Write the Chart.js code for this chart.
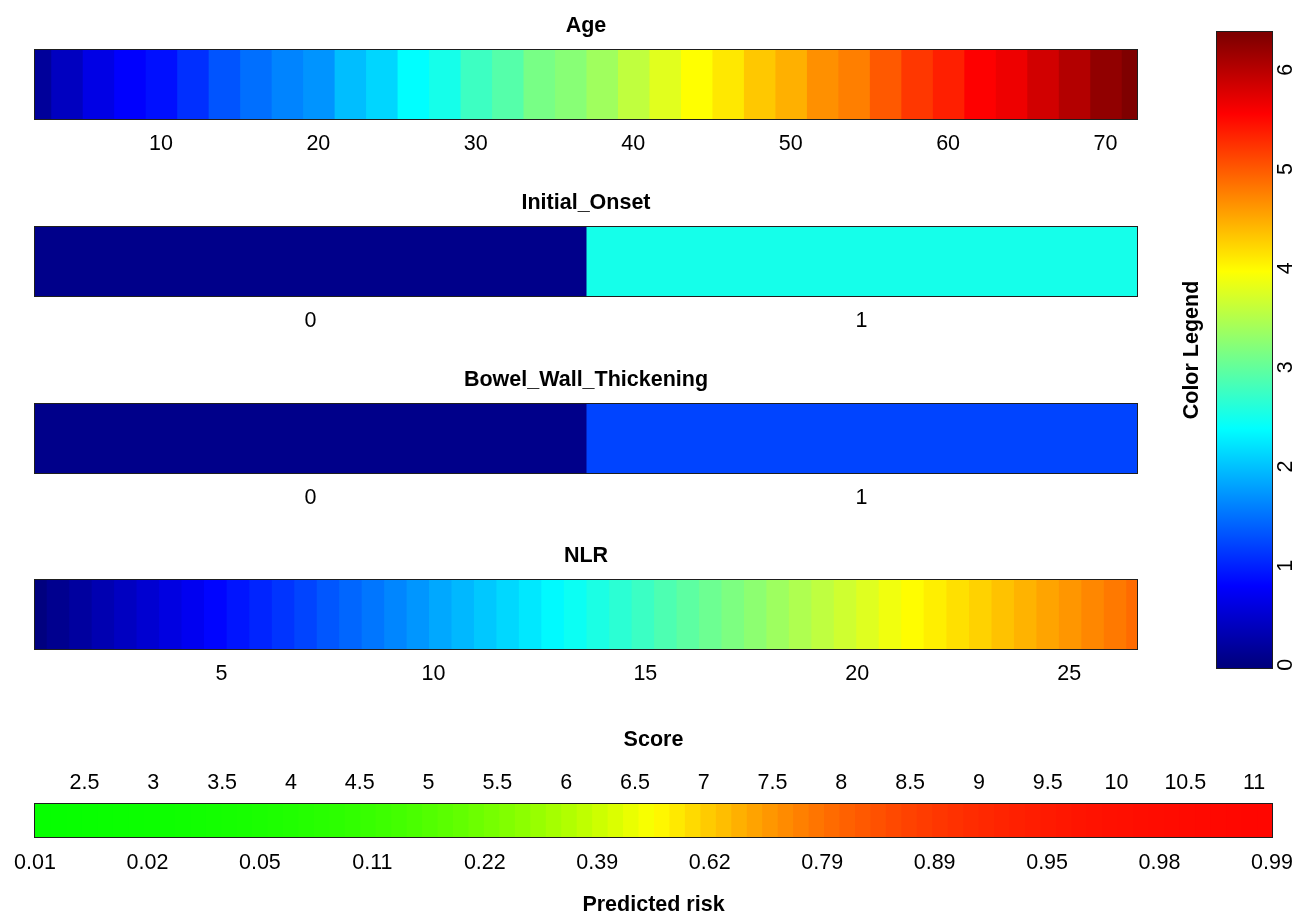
<!DOCTYPE html>
<html>
<head>
<meta charset="utf-8">
<title>Colour nomogram</title>
<script src="https://cdn.jsdelivr.net/npm/chart.js@4.4.1/dist/chart.umd.min.js"></script>
<style>
    html, body { margin: 0; padding: 0; background: #fff; overflow: hidden; }
    #page { position: relative; width: 1295px; height: 917px; overflow: hidden; }
    .panel { position: absolute; }
</style>
</head>
<body>
<div id="page"></div>
<script>
// values (colour = points on the 0..6.35 legend scale)
const ageLevels = [2, 4, 6, 8, 10, 12, 14, 16, 18, 20, 22, 24, 26, 28, 30, 32, 34, 36,
    38, 40, 42, 44, 46, 48, 50, 52, 54, 56, 58, 60, 62, 64, 66, 68, 70, 72];
const ageValues = [0.17, 0.40, 0.63, 0.79, 0.89, 1.09, 1.32, 1.49, 1.62, 1.72, 1.98, 2.13,
    2.38, 2.51, 2.76, 2.91, 3.13, 3.23, 3.38, 3.58, 3.78, 3.97, 4.11, 4.31,
    4.46, 4.66, 4.76, 5.00, 5.21, 5.36, 5.56, 5.66, 5.84, 6.03, 6.24, 6.35];
const ageTicks = [10, 20, 30, 40, 50, 60, 70];

const onsetLevels = [0, 1];
const onsetValues = [0.07, 2.51];

const bowelLevels = [0, 1];
const bowelValues = [0.07, 1.22];

const nlrLevels = [0.60, 1.13, 1.66, 2.19, 2.72, 3.25, 3.78, 4.31, 4.84, 5.38,
    5.91, 6.44, 6.97, 7.50, 8.03, 8.56, 9.09, 9.62, 10.15, 10.68,
    11.21, 11.74, 12.27, 12.80, 13.33, 13.87, 14.40, 14.93, 15.46, 15.99,
    16.52, 17.05, 17.58, 18.11, 18.64, 19.17, 19.70, 20.23, 20.76, 21.29,
    21.82, 22.36, 22.89, 23.42, 23.95, 24.48, 25.01, 25.54, 26.07, 26.60];
const nlrValues = [0.00, 0.10, 0.20, 0.31, 0.41, 0.51, 0.61, 0.71, 0.82, 0.92,
    1.02, 1.12, 1.22, 1.33, 1.43, 1.53, 1.63, 1.73, 1.84, 1.94,
    2.04, 2.14, 2.24, 2.35, 2.45, 2.55, 2.65, 2.75, 2.86, 2.96,
    3.06, 3.16, 3.26, 3.37, 3.47, 3.57, 3.67, 3.77, 3.88, 3.98,
    4.07, 4.16, 4.25, 4.35, 4.44, 4.53, 4.62, 4.71, 4.80, 4.89];
const nlrTicks = [5, 10, 15, 20, 25];

const scoreMin = 2.14;
const scoreMax = 11.13;
const scoreTicks = [2.5, 3, 3.5, 4, 4.5, 5, 5.5, 6, 6.5, 7, 7.5, 8, 8.5, 9, 9.5, 10, 10.5, 11];
// predicted risk of each score cell, left to right
const scoreRisk = [0.011, 0.012, 0.013, 0.015, 0.017, 0.019, 0.021, 0.024, 0.026, 0.029,
    0.033, 0.037, 0.041, 0.046, 0.051, 0.057, 0.063, 0.071, 0.078, 0.087,
    0.097, 0.107, 0.119, 0.131, 0.145, 0.160, 0.176, 0.193, 0.212, 0.232,
    0.253, 0.275, 0.298, 0.323, 0.348, 0.375, 0.402, 0.430, 0.459, 0.487,
    0.516, 0.544, 0.573, 0.601, 0.628, 0.654, 0.680, 0.704, 0.728, 0.750,
    0.771, 0.790, 0.809, 0.826, 0.842, 0.857, 0.870, 0.883, 0.894, 0.904,
    0.914, 0.922, 0.930, 0.937, 0.944, 0.950, 0.955, 0.960, 0.964, 0.968,
    0.971, 0.974, 0.977, 0.979, 0.981, 0.983, 0.985, 0.987, 0.988, 0.989];
const riskLabels = ['0.01', '0.02', '0.05', '0.11', '0.22', '0.39',
    '0.62', '0.79', '0.89', '0.95', '0.98', '0.99'];

const legendMax = 6.35;
const legendTicks = [0, 1, 2, 3, 4, 5, 6];

// ---- styling ----
const FONT = '"Liberation Sans", Arial, sans-serif';
const FS = 21.5;
const LH = FS * 1.2;
const boldFont = { family: FONT, size: FS, weight: 'bold' };
const tickFont = { family: FONT, size: FS };

Chart.defaults.font.family = FONT;
Chart.defaults.color = '#000';

const jetStops = ['#00007F', '#0000FF', '#007FFF', '#00FFFF', '#7FFF7F',
    '#FFFF00', '#FF7F00', '#FF0000', '#7F0000'];

function hexRgb(h) {
    return [parseInt(h.substr(1, 2), 16), parseInt(h.substr(3, 2), 16), parseInt(h.substr(5, 2), 16)];
}

function jetColor(v) {
    let t = Math.min(Math.max(v / legendMax, 0), 1) * 8;
    let i = Math.min(Math.floor(t), 7);
    let f = t - i;
    let a = hexRgb(jetStops[i]), b = hexRgb(jetStops[i + 1]);
    let c = a.map((x, k) => Math.round(x + (b[k] - x) * f));
    return 'rgb(' + c.join(',') + ')';
}

function riskColor(r) {
    // green -> yellow -> red
    let red = r < 0.5 ? Math.round(510 * r) : 255;
    let green = r < 0.5 ? 255 : Math.round(510 * (1 - r));
    return 'rgb(' + red + ',' + green + ',0)';
}

const framePlugin = {
    id: 'frame',
    afterDatasetsDraw(chart) {
        const { ctx, chartArea: a } = chart;
        ctx.save();
        ctx.strokeStyle = '#1e1e1e';
        ctx.lineWidth = 1;
        ctx.strokeRect(Math.round(a.left) - 0.5, Math.round(a.top) - 0.5,
            Math.round(a.width) + 1, Math.round(a.height) + 1);
        ctx.restore();
    }
};

function addPanel(id, left, top, width, height) {
    const div = document.createElement('div');
    div.className = 'panel';
    div.style.left = left + 'px';
    div.style.top = top + 'px';
    div.style.width = width + 'px';
    div.style.height = height + 'px';
    const canvas = document.createElement('canvas');
    canvas.id = id;
    div.appendChild(canvas);
    document.getElementById('page').appendChild(div);
    return canvas.getContext('2d');
}

function cell(lo, hi, color) {
    return {
        data: [[lo, hi]],
        backgroundColor: color,
        borderWidth: 0,
        inflateAmount: 0.5,
        barPercentage: 1,
        categoryPercentage: 1,
        grouped: false
    };
}

function drawStrip(id, barTop, title, levels, values, lo, hi, tickValues, tickLabels) {
    const ctx = addPanel(id, 0, barTop - 50, 1160, 169);
    const datasets = levels.map((level, i) => cell(
        i === 0 ? lo : (levels[i - 1] + level) / 2,
        i === levels.length - 1 ? hi : (level + levels[i + 1]) / 2,
        jetColor(values[i])));

    return new Chart(ctx, {
        type: 'bar',
        data: { labels: [title], datasets: datasets },
        options: {
            indexAxis: 'y',
            responsive: true,
            maintainAspectRatio: false,
            animation: false,
            layout: { padding: { left: 35, right: 23, top: 0, bottom: 0 } },
            plugins: {
                legend: { display: false },
                tooltip: { enabled: false },
                title: {
                    display: true,
                    text: title,
                    color: '#000',
                    font: boldFont,
                    padding: { top: 26 - LH / 2, bottom: 24 - LH / 2 }
                }
            },
            scales: {
                y: { display: false },
                x: {
                    type: 'linear',
                    min: lo,
                    max: hi,
                    grid: { display: false, drawTicks: false },
                    border: { display: false },
                    afterBuildTicks: scale => {
                        scale.ticks = tickValues.map(v => ({ value: v }));
                    },
                    ticks: {
                        autoSkip: false,
                        maxRotation: 0,
                        padding: 25 - LH / 2,
                        color: '#000',
                        font: tickFont,
                        callback: (v, i) => tickLabels[i]
                    }
                }
            }
        },
        plugins: [framePlugin]
    });
}

drawStrip('age', 50, 'Age', ageLevels, ageValues, 2, 72, ageTicks, ageTicks.map(String));
drawStrip('onset', 227, 'Initial_Onset', onsetLevels, onsetValues, -0.5, 1.5, onsetLevels, ['0', '1']);
drawStrip('bowel', 404, 'Bowel_Wall_Thickening', bowelLevels, bowelValues, -0.5, 1.5, bowelLevels, ['0', '1']);
drawStrip('nlr', 580, 'NLR', nlrLevels, nlrValues, 0.6, 26.6, nlrTicks, nlrTicks.map(String));

// ---- score / predicted risk bar ----
(function () {
    const top = 700;
    // panel runs past the right edge so the label overhang does not shrink the bar
    const ctx = addPanel('score', 0, top, 1340, 220);
    const w = (scoreMax - scoreMin) / scoreRisk.length;
    const datasets = scoreRisk.map((r, i) =>
        cell(scoreMin + i * w, scoreMin + (i + 1) * w, riskColor(r)));

    new Chart(ctx, {
        type: 'bar',
        data: { labels: ['Score'], datasets: datasets },
        options: {
            indexAxis: 'y',
            responsive: true,
            maintainAspectRatio: false,
            animation: false,
            layout: { padding: { left: 35, right: 1340 - 1272, top: 0, bottom: 0 } },
            plugins: {
                legend: { display: false },
                tooltip: { enabled: false },
                title: {
                    display: true,
                    text: 'Score',
                    color: '#000',
                    font: boldFont,
                    padding: { top: 740 - top - LH / 2, bottom: 22 - LH / 2 }
                }
            },
            scales: {
                y: { display: false },
                x: {
                    type: 'linear',
                    position: 'top',
                    min: scoreMin,
                    max: scoreMax,
                    grid: { display: false, drawTicks: false },
                    border: { display: false },
                    afterBuildTicks: scale => {
                        scale.ticks = scoreTicks.map(v => ({ value: v }));
                    },
                    ticks: {
                        autoSkip: false,
                        maxRotation: 0,
                        padding: 21 - LH / 2,
                        color: '#000',
                        font: tickFont,
                        callback: (v, i) => String(scoreTicks[i])
                    }
                },
                xRisk: {
                    type: 'linear',
                    position: 'bottom',
                    min: 0,
                    max: riskLabels.length - 1,
                    grid: { display: false, drawTicks: false },
                    border: { display: false },
                    afterBuildTicks: scale => {
                        scale.ticks = riskLabels.map((_, i) => ({ value: i }));
                    },
                    ticks: {
                        autoSkip: false,
                        maxRotation: 0,
                        padding: 26 - LH / 2,
                        color: '#000',
                        font: tickFont,
                        callback: (v, i) => riskLabels[i]
                    },
                    title: {
                        display: true,
                        text: 'Predicted risk',
                        color: '#000',
                        font: boldFont,
                        padding: { top: 16 - LH / 2, bottom: 2 }
                    }
                }
            }
        },
        plugins: [framePlugin]
    });
})();

// ---- colour legend ----
(function () {
    const ctx = addPanel('legend', 1160, 0, 135, 700);
    const half = legendMax / 99 / 2;

    const legendLabels = {
        id: 'legendLabels',
        afterDraw(chart) {
            const { ctx, chartArea: a, scales: { y } } = chart;
            ctx.save();
            ctx.fillStyle = '#000';
            ctx.font = FS + 'px ' + FONT;
            ctx.textAlign = 'center';
            ctx.textBaseline = 'middle';
            legendTicks.forEach(v => {
                ctx.save();
                ctx.translate(a.right + 14, y.getPixelForValue(v));
                ctx.rotate(-Math.PI / 2);
                ctx.fillText(String(v), 0, 0);
                ctx.restore();
            });
            ctx.restore();
        }
    };

    new Chart(ctx, {
        type: 'bar',
        data: {
            labels: ['legend'],
            datasets: [{
                data: [[-half, legendMax + half]],
                backgroundColor: c => {
                    const chart = c.chart;
                    if (!chart.chartArea) return jetStops[0];
                    const y = chart.scales.y;
                    const g = chart.ctx.createLinearGradient(0, y.getPixelForValue(0), 0, y.getPixelForValue(legendMax));
                    jetStops.forEach((col, i) => g.addColorStop(i / 8, col));
                    return g;
                },
                borderWidth: 0,
                barPercentage: 1,
                categoryPercentage: 1
            }]
        },
        options: {
            responsive: true,
            maintainAspectRatio: false,
            animation: false,
            layout: { padding: { left: 10, right: 23, top: 32, bottom: 32 } },
            plugins: {
                legend: { display: false },
                tooltip: { enabled: false }
            },
            scales: {
                x: { display: false },
                y: {
                    type: 'linear',
                    position: 'left',
                    min: -half,
                    max: legendMax + half,
                    grid: { display: false, drawTicks: false },
                    border: { display: false },
                    ticks: { display: false },
                    title: {
                        display: true,
                        text: 'Color Legend',
                        color: '#000',
                        font: boldFont,
                        padding: { top: 22 - LH / 2, bottom: 47 - 22 - LH / 2 }
                    }
                }
            }
        },
        plugins: [framePlugin, legendLabels]
    });
})();
</script>
</body>
</html>
